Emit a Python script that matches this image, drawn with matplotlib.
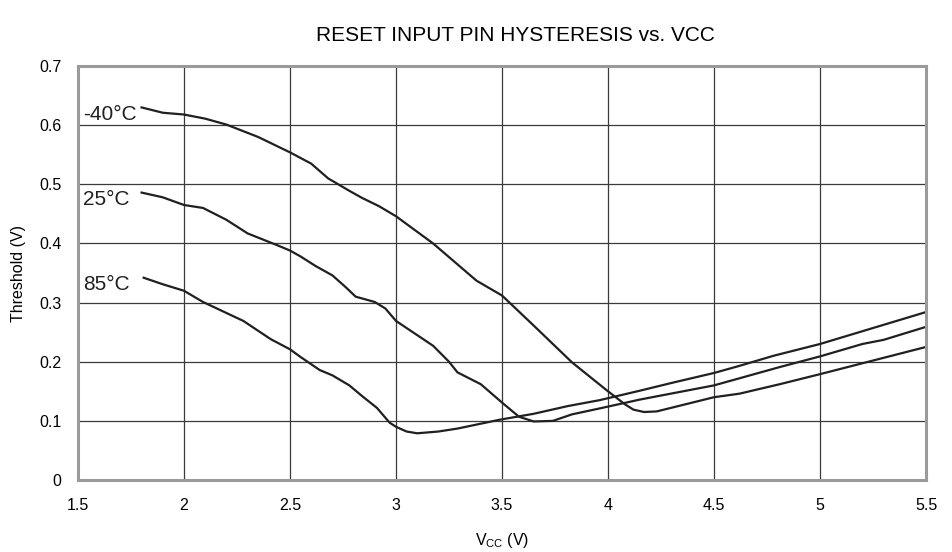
import matplotlib.pyplot as plt
import numpy as np

plt.rcParams['font.family'] = ['Liberation Sans', 'DejaVu Sans']

x_m40 = [1.80, 1.90, 2.0, 2.10, 2.20, 2.35, 2.5, 2.60, 2.68, 2.78, 2.84, 2.92, 3.0,
         3.175, 3.38, 3.5, 3.65, 3.83, 4.0, 4.08, 4.12, 4.17, 4.23, 4.5, 4.62,
         4.81, 5.0, 5.25, 5.5]
y_m40 = [0.630, 0.621, 0.618, 0.611, 0.601, 0.580, 0.554, 0.535, 0.510, 0.489, 0.477,
         0.463, 0.446, 0.400, 0.337, 0.312, 0.261, 0.199, 0.150, 0.128, 0.119, 0.115,
         0.116, 0.140, 0.146, 0.162, 0.179, 0.202, 0.225]

x_25 = [1.80, 1.90, 2.0, 2.09, 2.20, 2.30, 2.44, 2.5, 2.55, 2.62, 2.70, 2.76, 2.81,
        2.90, 2.95, 3.0, 3.175, 3.25, 3.29, 3.40, 3.5, 3.58, 3.65, 3.74, 3.83, 3.96,
        4.15, 4.5, 4.81, 5.0, 5.2, 5.3, 5.5]
y_25 = [0.486, 0.478, 0.465, 0.460, 0.440, 0.417, 0.397, 0.388, 0.378, 0.362, 0.346,
        0.327, 0.310, 0.301, 0.290, 0.269, 0.227, 0.200, 0.182, 0.162, 0.131, 0.107,
        0.099, 0.100, 0.111, 0.121, 0.136, 0.160, 0.191, 0.209, 0.230, 0.237, 0.259]

x_85 = [1.81, 1.90, 2.0, 2.09, 2.28, 2.41, 2.5, 2.55, 2.64, 2.70, 2.78, 2.84, 2.91,
        2.97, 3.0, 3.05, 3.10, 3.20, 3.29, 3.49, 3.65, 3.81, 3.96, 4.15, 4.31, 4.5,
        4.62, 4.78, 5.0, 5.5]
y_85 = [0.342, 0.331, 0.320, 0.301, 0.269, 0.238, 0.221, 0.208, 0.186, 0.177, 0.160,
        0.142, 0.122, 0.097, 0.090, 0.082, 0.079, 0.082, 0.087, 0.102, 0.112, 0.125,
        0.135, 0.151, 0.165, 0.181, 0.193, 0.210, 0.230, 0.284]

labels = ['-40°C', '25°C', '85°C']

fig = plt.figure(figsize=(9.52, 5.52), dpi=100)
ax = fig.add_axes([0.0819, 0.1304, 0.8908, 0.75])

for xs, ys, lab in [(x_m40, y_m40, labels[0]), (x_25, y_25, labels[1]), (x_85, y_85, labels[2])]:
    ax.plot(xs, ys, color='#231f20', lw=1.6, solid_joinstyle='round')
    ax.text(1.526, ys[0] - 0.012, lab, fontsize=15, va='center', ha='left', color='#231f20')

ax.set_xlim(1.5, 5.5)
ax.set_ylim(0, 0.7)
ax.set_xticks(np.arange(1.5, 5.51, 0.5))
ax.set_xticklabels(['1.5', '2', '2.5', '3', '3.5', '4', '4.5', '5', '5.5'])
ax.set_yticks(np.arange(0, 0.71, 0.1))
ax.set_yticklabels(['0', '0.1', '0.2', '0.3', '0.4', '0.5', '0.6', '0.7'])
ax.tick_params(length=0, labelsize=11.5, pad=13)
ax.tick_params(axis='y', pad=12)
ax.grid(True, color='#3a3a3a', lw=0.9)
ax.set_axisbelow(True)
for s in ax.spines.values():
    s.set_color('#9a9a9a')
    s.set_linewidth(2.2)

ax.set_xlabel('V$_{\\mathregular{CC}}$ (V)', fontsize=11.5, labelpad=13)
ax.set_ylabel('Threshold (V)', fontsize=11.5, labelpad=9)
fig.text(0.541, 0.935, 'RESET INPUT PIN HYSTERESIS vs. VCC', fontsize=15, ha='center', va='center')

fig.savefig('out.png', dpi=100)
